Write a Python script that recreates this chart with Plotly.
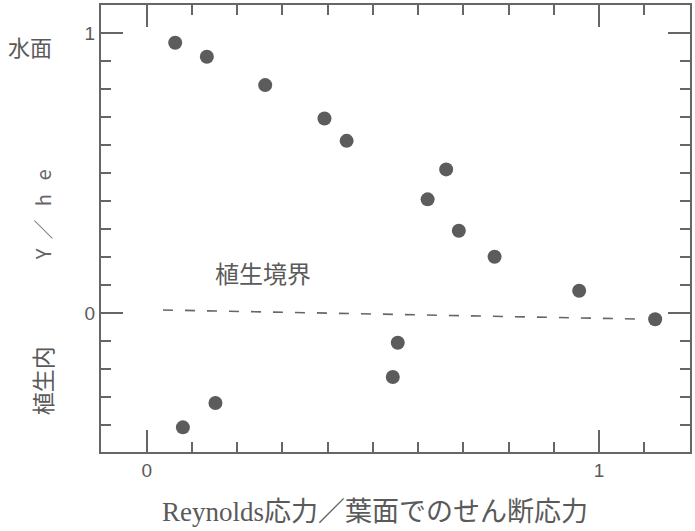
import plotly.graph_objects as go

# data
stress_ratio = [0.063, 0.133, 0.262, 0.393, 0.442, 0.662, 0.621, 0.690, 0.769, 0.956, 1.124,
                0.080, 0.152, 0.544, 0.555]
y_over_he = [0.965, 0.915, 0.814, 0.695, 0.615, 0.513, 0.406, 0.294, 0.201, 0.080, -0.022,
             -0.408, -0.321, -0.228, -0.106]
boundary_x = [0.036, 1.08]
boundary_y = [0.011, -0.021]
x_tickvals = [0, 1]
x_ticktext = ["0", "1"]
y_tickvals = [0, 1]
y_ticktext = ["0", "1"]

GRAY = "#5c5c5c"
TXT = "#5a5a5a"
CJK = "Liberation Serif, Noto Sans CJK JP"

fig = go.Figure()
fig.add_trace(go.Scatter(x=boundary_x, y=boundary_y, mode="lines",
                         line=dict(color="#666666", width=1.6, dash="10px,12px"),
                         hoverinfo="skip", showlegend=False))
fig.add_trace(go.Scatter(x=stress_ratio, y=y_over_he, mode="markers",
                         marker=dict(size=14, color=GRAY, line=dict(width=0)),
                         showlegend=False))

axis_common = dict(showgrid=False, zeroline=False, showline=True, linecolor="#666666",
                   linewidth=2, mirror="ticks", ticks="inside", ticklen=22, tickwidth=2,
                   tickcolor="#666666", automargin=False,
                   tickfont=dict(family="Liberation Sans, Noto Sans", size=19, color=TXT),
                   minor=dict(ticks="inside", dtick=0.1, ticklen=10, tickwidth=2,
                              tickcolor="#666666", showgrid=False))

fig.update_xaxes(range=[-0.101, 1.201], tickmode="array", tickvals=x_tickvals,
                 ticktext=x_ticktext, **axis_common)
fig.update_yaxes(range=[-0.496, 1.1], tickmode="array", tickvals=y_tickvals,
                 ticktext=y_ticktext, **axis_common)

fig.add_annotation(text="Reynolds応力／葉面でのせん断応力", xref="paper", yref="paper",
                   x=0.465, y=-0.134, xanchor="center", yanchor="middle", showarrow=False,
                   font=dict(family=CJK, size=27, color=TXT))
fig.add_annotation(text="Y\u00a0\u00a0／\u00a0\u00a0\u00a0h\u00a0\u00a0\u00a0e", xref="paper",
                   yref="y", x=-0.1, y=0.35, xanchor="center", yanchor="middle",
                   textangle=-90, showarrow=False,
                   font=dict(family="Noto Sans CJK JP", size=20, color="#666666"))
fig.add_annotation(text="水面", xref="paper", yref="y", x=-0.12, y=0.955,
                   xanchor="center", yanchor="middle", showarrow=False,
                   font=dict(family="Noto Sans CJK JP", size=22, color=TXT))
fig.add_annotation(text="植生内", xref="paper", yref="y", x=-0.1, y=-0.243,
                   xanchor="center", yanchor="middle", textangle=-90, showarrow=False,
                   font=dict(family="Noto Sans CJK JP", size=23, color=TXT))
fig.add_annotation(text="植生境界", xref="x", yref="y", x=0.256, y=0.145,
                   xanchor="center", yanchor="middle", showarrow=False,
                   font=dict(family="Noto Sans CJK JP", size=24, color=TXT))

fig.update_layout(width=695, height=531, paper_bgcolor="white", plot_bgcolor="white",
                  margin=dict(l=101, r=5, t=5, b=79), showlegend=False)

fig.write_html("out.html", config={"displayModeBar": False},
               post_script="document.body.style.margin='0';document.body.style.overflow='hidden';")
